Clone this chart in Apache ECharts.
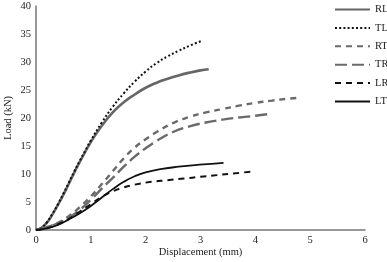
<!DOCTYPE html>
<html><head><meta charset="utf-8">
<script src="https://cdn.jsdelivr.net/npm/echarts@6/dist/echarts.min.js"></script>
<style>html,body{margin:0;padding:0;background:#fff}#c{width:387px;height:262px}</style>
</head><body><div id="c"></div>
<script>
const seriesNames = ['RL','TL','RT','TR','LR','LT'];
const RL = [[0,0],[0.1,0.4],[0.2,1.3],[0.3,2.8],[0.4,4.5],[0.5,6.3],[0.6,8.3],[0.7,10.3],[0.8,12.2],[0.9,14],[1.0,15.7],[1.2,18.6],[1.4,21],[1.6,22.8],[1.8,24.2],[2.0,25.4],[2.2,26.3],[2.4,27.0],[2.6,27.6],[2.8,28.1],[3.0,28.5],[3.15,28.7]];
const TL = [[0,0],[0.1,0.4],[0.2,1.4],[0.3,2.9],[0.4,4.6],[0.5,6.5],[0.6,8.5],[0.7,10.5],[0.8,12.4],[0.9,14.2],[1.0,16],[1.2,19.2],[1.4,22],[1.6,24.4],[1.8,26.5],[2.0,28.3],[2.2,29.8],[2.4,31.0],[2.6,32.0],[2.8,32.9],[3.03,33.8]];
const RT = [[0,0],[0.2,0.5],[0.4,1.3],[0.6,2.5],[0.8,4.1],[1.0,6.0],[1.2,8.2],[1.4,10.5],[1.6,12.8],[1.8,14.7],[2.0,16.2],[2.2,17.5],[2.5,19.1],[2.8,20.2],[3.1,21.0],[3.4,21.6],[3.7,22.2],[4.0,22.7],[4.3,23.1],[4.55,23.4],[4.77,23.6]];
const TR = [[0,0],[0.2,0.5],[0.4,1.2],[0.6,2.2],[0.8,3.6],[1.0,5.4],[1.2,7.4],[1.4,9.3],[1.6,11.3],[1.8,13.1],[2.0,14.6],[2.2,15.9],[2.5,17.5],[2.8,18.5],[3.1,19.2],[3.4,19.7],[3.7,20.1],[4.0,20.4],[4.3,20.8]];
const LR = [[0,0],[0.2,0.3],[0.4,1.0],[0.6,2.0],[0.8,3.3],[1.0,4.6],[1.2,5.9],[1.4,6.9],[1.6,7.6],[1.8,8.1],[2.1,8.6],[2.4,8.9],[2.7,9.2],[3.0,9.5],[3.3,9.8],[3.6,10.1],[3.91,10.4]];
const LT = [[0,0],[0.2,0.3],[0.4,0.9],[0.6,1.9],[0.8,3.0],[1.0,4.3],[1.2,5.8],[1.4,7.3],[1.6,8.6],[1.8,9.6],[2.0,10.3],[2.3,10.9],[2.6,11.3],[2.9,11.6],[3.2,11.8],[3.42,12.0]];
const xTitle = 'Displacement (mm)';
const yTitle = 'Load (kN)';

const font = 'Liberation Serif';
const styles = {
  RL: {color:'#666666', width:2.6, type:'solid'},
  TL: {color:'#111111', width:2, type:[2,2.2]},
  RT: {color:'#6a6a6a', width:2.4, type:[6,5]},
  TR: {color:'#6a6a6a', width:2.4, type:[12,5]},
  LR: {color:'#111111', width:2, type:[6,5]},
  LT: {color:'#111111', width:1.8, type:'solid'}
};
const dataMap = {RL, TL, RT, TR, LR, LT};
const chart = echarts.init(document.getElementById('c'), null, {renderer:'canvas'});
chart.setOption({
  animation:false,
  backgroundColor:'#fff',
  grid:{left:36, right:22, top:6, bottom:32, containLabel:false, outerBoundsMode:'none'},
  legend:{
    orient:'vertical', left:334, top:4, padding:0, itemWidth:35, itemHeight:12, itemGap:7.4,
    itemStyle:{opacity:0},
    textStyle:{fontFamily:font, fontSize:10.5, color:'#222'},
    data: seriesNames
  },
  xAxis:{
    type:'value', min:0, max:6, interval:1,
    name:xTitle, nameLocation:'middle', nameGap:17, nameMoveOverlap:false,
    nameTextStyle:{fontFamily:font, fontSize:10.5, color:'#222'},
    axisLine:{lineStyle:{color:'#777', width:1.5}},
    axisTick:{show:false}, splitLine:{show:false},
    axisLabel:{fontFamily:font, fontSize:10.5, color:'#222', margin:5}
  },
  yAxis:{
    type:'value', min:0, max:40, interval:5,
    name:yTitle, nameLocation:'middle', nameGap:22, nameRotate:90, nameMoveOverlap:false,
    nameTextStyle:{fontFamily:font, fontSize:10.5, color:'#222'},
    axisLine:{show:true, lineStyle:{color:'#777', width:1.5}},
    axisTick:{show:false}, splitLine:{show:false},
    axisLabel:{fontFamily:font, fontSize:10.5, color:'#222', margin:5}
  },
  series: seriesNames.map(n => ({
    name:n, type:'line', data:dataMap[n], smooth:true, showSymbol:false, symbol:'none',
    lineStyle:{color:styles[n].color, width:styles[n].width, type:styles[n].type},
    itemStyle:{color:styles[n].color}
  }))
});
</script></body></html>
